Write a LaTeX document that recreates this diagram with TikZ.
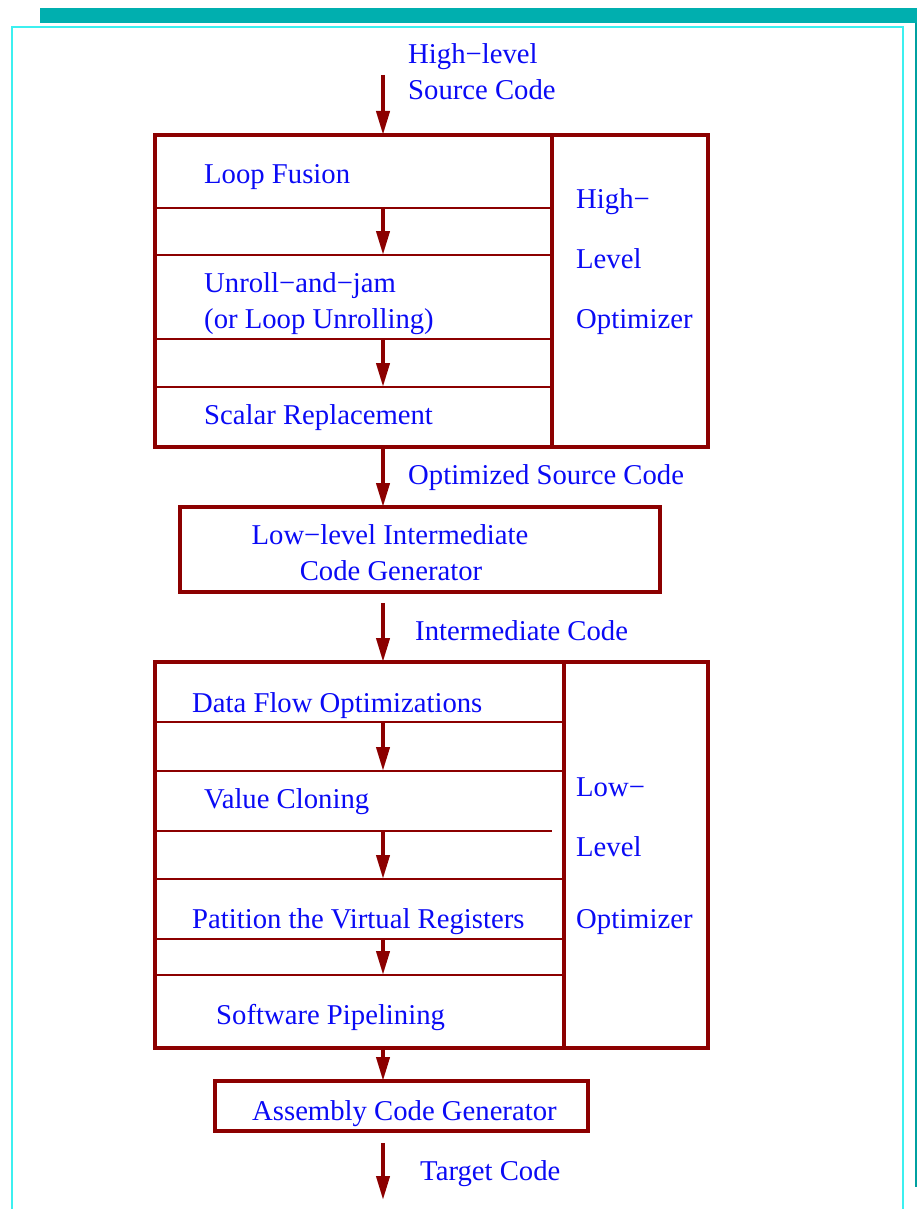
\documentclass[tikz,border=0pt]{standalone}
\usepackage{fontspec}
\setmainfont{Liberation Serif}
\usetikzlibrary{arrows.meta}
\definecolor{dred}{RGB}{140,0,0}
\definecolor{tblue}{RGB}{10,10,245}
\definecolor{tealbar}{RGB}{0,175,175}
\definecolor{tealline}{RGB}{0,160,160}
\definecolor{frame}{RGB}{60,240,240}
\begin{document}
\begin{tikzpicture}[x=1pt,y=-1pt,
  box/.style={draw=dred,line width=4pt,rectangle,inner sep=0pt,outer sep=0pt,anchor=north west},
  sepline/.style={draw=dred,line width=2.5pt},
  divline/.style={draw=dred,line width=4pt},
  arr/.style={draw=dred,line width=4pt,-{Triangle[width=13pt,length=24pt]}},
  lbl/.style={text=tblue,font=\fontsize{28.7}{34}\selectfont,inner sep=0pt,anchor=base west},
  clbl/.style={lbl,anchor=base}]
\useasboundingbox (0,0) rectangle (917,1209);
% page decoration
\fill[tealbar] (40,8) rectangle (917,23);
\draw[tealline,line width=2pt] (916,23) -- (916,1187);
\draw[frame,line width=1.5pt] (12,1209) -- (12,27) -- (903,27) -- (903,1209);

% ---------- input ----------
\node[lbl] (src1) at (408,64) {High−level};
\node[lbl] (src2) at (408,100) {Source Code};
\coordinate (in0) at (383,75);

% ---------- high-level optimizer ----------
\node[box,minimum width=553pt,minimum height=312pt] (hlo) at (155,135) {};
\coordinate (hdivt) at (552,135);
\coordinate (hdivb) at (552,447);
\draw[divline] (hdivt) -- (hdivb);
\foreach \yy/\nm in {208/h1,255/h2,339/h3,387/h4}{
  \coordinate (\nm l) at (155,\yy);
  \coordinate (\nm r) at (552,\yy);
  \draw[sepline] (\nm l) -- (\nm r);
}
\node[lbl] (lf) at (204,184) {Loop Fusion};
\node[lbl] (uj1) at (204,292) {Unroll−and−jam};
\node[lbl] (uj2) at (204,328) {(or Loop Unrolling)};
\node[lbl] (sr) at (204,424) {Scalar Replacement};
\node[lbl] (hl1) at (576,208) {High−};
\node[lbl] (hl2) at (576,268) {Level};
\node[lbl] (hl3) at (576,328) {Optimizer};
\coordinate (ha1) at (383,208);
\coordinate (ha2) at (383,255);
\coordinate (ha3) at (383,339);
\coordinate (ha4) at (383,387);
\draw[arr] (in0) -- (in0 |- hlo.north);
\draw[arr] (ha1) -- (ha2);
\draw[arr] (ha3) -- (ha4);

% ---------- low-level intermediate code generator ----------
\node[lbl] (osc) at (408,484) {Optimized Source Code};
\node[box,minimum width=480pt,minimum height=85pt] (lic) at (180,507) {};
\node[clbl] (lic1) at (390,544) {Low−level Intermediate};
\node[clbl] (lic2) at (391,580) {Code Generator};
\coordinate (hb) at (383,447);
\draw[arr] (hb) -- (hb |- lic.north);

\node[lbl] (ic) at (415,640) {Intermediate Code};
\coordinate (lb) at (383,603);

% ---------- low-level optimizer ----------
\node[box,minimum width=553pt,minimum height=386pt] (llo) at (155,662) {};
\draw[arr] (lb) -- (lb |- llo.north);
\coordinate (ldivt) at (564,662);
\coordinate (ldivb) at (564,1048);
\draw[divline] (ldivt) -- (ldivb);
\foreach \yy/\nm/\xr in {722/l1/564,771/l2/564,831/l3/552,879/l4/564,939/l5/564,975/l6/564}{
  \coordinate (\nm l) at (155,\yy);
  \coordinate (\nm r) at (\xr,\yy);
  \draw[sepline] (\nm l) -- (\nm r);
}
\node[lbl] (dfo) at (192,712) {Data Flow Optimizations};
\node[lbl] (vc) at (204,808) {Value Cloning};
\node[lbl] (pvr) at (192,928) {Patition the Virtual Registers};
\node[lbl] (swp) at (216,1024) {Software Pipelining};
\node[lbl] (ll1) at (576,796) {Low−};
\node[lbl] (ll2) at (576,856) {Level};
\node[lbl] (ll3) at (576,928) {Optimizer};
\coordinate (la1) at (383,722);
\coordinate (la2) at (383,771);
\coordinate (la3) at (383,831);
\coordinate (la4) at (383,879);
\coordinate (la5) at (383,939);
\coordinate (la6) at (383,975);
\draw[arr] (la1) -- (la2);
\draw[arr] (la3) -- (la4);
\draw[arr] (la5) -- (la6);

% ---------- assembly code generator ----------
\node[box,minimum width=373pt,minimum height=50pt] (acg) at (215,1081) {};
\node[lbl] (acgt) at (252,1120) {Assembly Code Generator};
\coordinate (lob) at (383,1048);
\draw[arr] (lob) -- (lob |- acg.north);

\coordinate (out0) at (383,1143);
\coordinate (out1) at (383,1200);
\draw[arr] (out0) -- (out1);
\node[lbl] (tc) at (420,1180) {Target Code};
\end{tikzpicture}
\end{document}
